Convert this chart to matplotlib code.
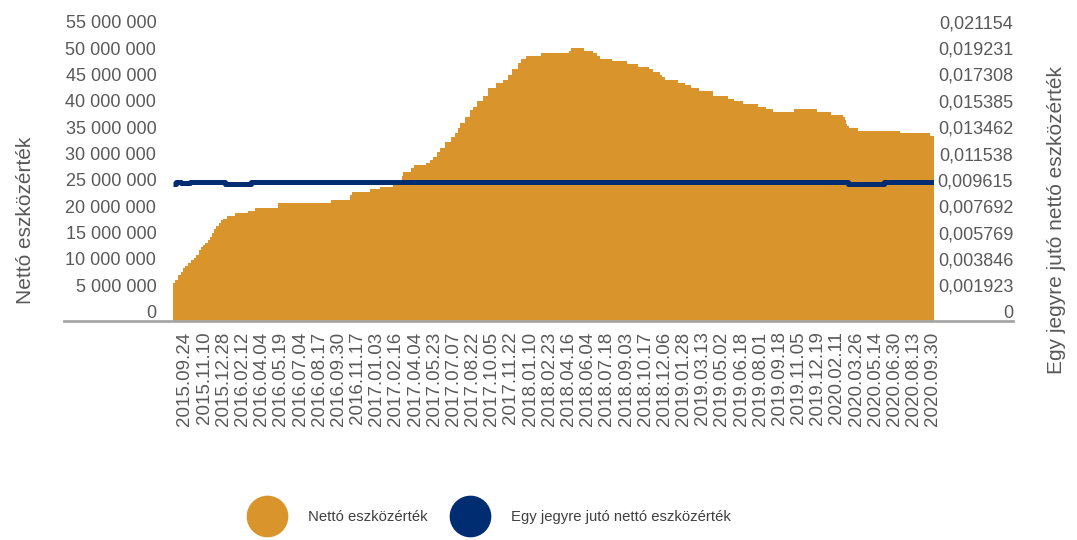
import numpy as np
import matplotlib
matplotlib.use("Agg")
import matplotlib.pyplot as plt
from matplotlib.lines import Line2D
from matplotlib.transforms import ScaledTranslation

plt.rcParams['font.family'] = ['Liberation Sans', 'DejaVu Sans']

# --- adatok ---
# kereskedési nap sorszáma, ahol az érték változik
nap = [0, 3, 8, 13, 17, 20, 25, 30, 35, 38, 43, 47, 50, 53, 58, 62, 65, 68, 72, 77,
       80, 83, 90, 103, 125, 137, 175, 264, 295, 299, 329, 345, 367, 382, 384, 397,
       402, 422, 429, 434, 440, 445, 454, 464, 470, 475, 479, 487, 495, 500, 507,
       517, 525, 539, 550, 559, 565, 575, 580, 589, 614, 661, 664, 686, 701, 707,
       712, 732, 757, 776, 782, 794, 801, 812, 816, 821, 842, 854, 864, 877, 901,
       926, 937, 951, 976, 989, 1001, 1037, 1074, 1098, 1118, 1121, 1123, 1124,
       1128, 1144, 1214, 1264]
# nettó eszközérték, millió
netto_m = [7.15, 7.78, 8.73, 9.35, 10.0, 10.43, 10.94, 11.57, 11.89, 12.52, 13.47,
           13.98, 14.42, 14.85, 15.36, 15.99, 16.75, 17.39, 18.02, 18.53, 19.16,
           19.29, 19.92, 20.54, 20.92, 21.43, 22.44, 22.95, 23.9, 24.53, 24.98,
           25.47, 26.18, 27.5, 28.32, 29.02, 29.59, 30.03, 30.54, 31.16, 32.06,
           32.81, 34.01, 34.96, 35.66, 36.61, 37.56, 38.69, 40.02, 40.65, 41.73,
           42.74, 44.14, 45.09, 45.71, 46.66, 47.74, 48.88, 49.64, 50.27, 50.78,
           51.21, 51.78, 51.21, 50.78, 50.27, 49.70, 49.32, 48.75, 48.24, 48.18,
           47.80, 47.23, 46.66, 46.28, 45.71, 45.20, 44.76, 44.20, 43.63, 42.68,
           42.11, 41.73, 41.16, 40.59, 40.21, 39.64, 40.21, 39.64, 39.07, 38.69,
           38.13, 37.37, 36.99, 36.61, 36.04, 35.66, 35.09]
napok_szama = 1270

# egy jegyre jutó nettó eszközérték
jegy_nap = [0, 5, 13, 28, 87, 130, 1126, 1186]
jegy_ertek = [0.01003, 0.01016, 0.01005, 0.01017, 0.00999, 0.01017, 0.00999, 0.01017]

datumok = ["2015.09.24", "2015.11.10", "2015.12.28", "2016.02.12", "2016.04.04",
           "2016.05.19", "2016.07.04", "2016.08.17", "2016.09.30", "2016.11.17",
           "2017.01.03", "2017.02.16", "2017.04.04", "2017.05.23", "2017.07.07",
           "2017.08.22", "2017.10.05", "2017.11.22", "2018.01.10", "2018.02.23",
           "2018.04.16", "2018.06.04", "2018.07.18", "2018.09.03", "2018.10.17",
           "2018.12.06", "2019.01.28", "2019.03.13", "2019.05.02", "2019.06.18",
           "2019.08.01", "2019.09.18", "2019.11.05", "2019.12.19", "2020.02.11",
           "2020.03.26", "2020.05.14", "2020.06.30", "2020.08.13", "2020.09.30"]
datum_nap = [20 + 32 * i for i in range(len(datumok))]

narancs = "#D9952B"
kek = "#002D72"
szurke = "#595959"

fig = plt.figure(figsize=(10.77, 5.4), dpi=100)
W, H = 1077, 540
ax = fig.add_axes([173 / W, (H - 321) / H, 761 / W, 295.2 / H])

netto = np.array(netto_m) * 1e6
szel = np.diff(np.append(nap, napok_szama))
ax.bar(nap, netto, width=szel, align='edge', color=narancs, linewidth=0,
       antialiased=False, zorder=2)
ax.set_xlim(0, napok_szama)
ax.set_ylim(0, 56e6)

bal_ticks = np.arange(0, 56e6, 5e6)
ax.set_yticks(bal_ticks)
ax.set_yticklabels(["0" if t == 0 else f"{int(t):,}".replace(",", " ") for t in bal_ticks])
ax.set_xticks(datum_nap)
ax.set_xticklabels(datumok, rotation=90)
ax.tick_params(axis='y', length=0, pad=12, labelsize=13, labelcolor=szurke)
ax.tick_params(axis='x', length=0, pad=7.5, labelsize=13.5, labelcolor=szurke)
for s in ax.spines.values():
    s.set_visible(False)

# alapvonal a teljes szélességben
ax.axhline(0, xmin=(64 - 173) / 761, xmax=(1013 - 173) / 761, color="#A6A6A6",
           lw=2, clip_on=False, zorder=5)

ax2 = ax.twinx()
x_line = np.append(jegy_nap, napok_szama)
y_line = np.append(jegy_ertek, jegy_ertek[-1])
ax2.plot(x_line, y_line, drawstyle='steps-post', color=kek, lw=3.6,
         solid_capstyle='butt', zorder=4)
ax2.set_ylim(0, 56e6 / 2.6e9)
jobb_ticks = np.arange(12) * 5e6 / 2.6e9
ax2.set_yticks(jobb_ticks)
ax2.set_yticklabels(["0" if t == 0 else f"{t:.6f}".replace(".", ",") for t in jobb_ticks])
ax2.tick_params(axis='y', length=0, pad=57, labelsize=13, labelcolor=szurke)
for lab in ax2.get_yticklabels():
    lab.set_horizontalalignment('right')
for s in ax2.spines.values():
    s.set_visible(False)

eltol = ScaledTranslation(0, 0.093, fig.dpi_scale_trans)
for lab in ax.get_yticklabels() + ax2.get_yticklabels():
    lab.set_transform(lab.get_transform() + eltol)

fig.text(25.7 / W, 1 - 220 / H, "Nettó eszközérték", rotation=90, ha='center',
         va='center', fontsize=15, color=szurke)
fig.text(1056 / W, 1 - 220 / H, "Egy jegyre jutó nettó eszközérték", rotation=90,
         ha='center', va='center', fontsize=15, color=szurke)

kezelok = [Line2D([], [], marker='o', ls='', ms=29, color=narancs),
           Line2D([], [], marker='o', ls='', ms=29, color=kek)]
fig.legend(kezelok, ["Nettó eszközérték", "Egy jegyre jutó nettó eszközérték"],
           loc='center', bbox_to_anchor=(490 / W, 23 / H), ncol=2, frameon=False,
           fontsize=10.7, handlelength=2.5, handletextpad=1.5, columnspacing=1.6,
           borderpad=0, labelcolor="#404040")

fig.savefig("out.png", dpi=100)
